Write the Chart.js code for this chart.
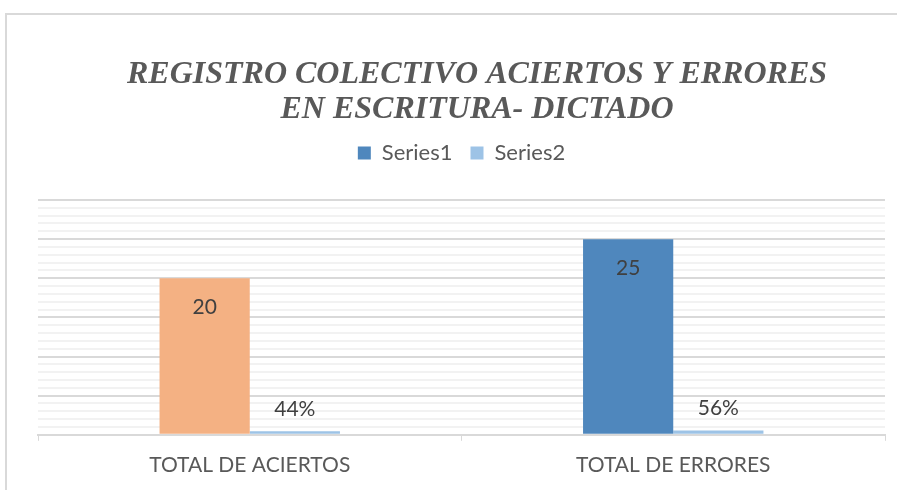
<!DOCTYPE html>
<html>
<head>
<meta charset="utf-8">
<script src="https://cdn.jsdelivr.net/npm/chart.js@4"></script>
<style>
  html, body { margin: 0; padding: 0; background: #fff; overflow: hidden; }
  #box {
    position: absolute; left: 5px; top: 13px;
    width: 918px; height: 477px;
    border-top: 2px solid #d9d9d9; border-left: 2px solid #d9d9d9;
  }
  canvas { position: absolute; left: -2px; top: -2px; }
</style>
</head>
<body>
<div id="box"><canvas id="myChart" width="918" height="477"></canvas></div>
<script>
// data
const categories = ['TOTAL DE ACIERTOS', 'TOTAL DE ERRORES'];
const series1 = [20, 25];
const series2 = [0.44, 0.56];
const seriesNames = ['Series1', 'Series2'];
const titleLines = ['REGISTRO COLECTIVO ACIERTOS Y ERRORES', 'EN ESCRITURA- DICTADO'];

const ORANGE = '#F4B183';
const BLUE = '#4F87BD';
const LIGHT = '#9DC3E6';
const legendColors = [BLUE, LIGHT];

const labelFont = '21px Lato';

// title drawn by hand so it can sit a bit right of centre like the original
const titlePlugin = {
  id: 'titleDraw',
  afterDraw(chart) {
    const ctx = chart.ctx;
    ctx.save();
    ctx.font = 'italic bold 32px "Liberation Serif"';
    ctx.fillStyle = '#595959';
    ctx.textAlign = 'center';
    ctx.textBaseline = 'middle';
    ctx.fillText(titleLines[0], 472, 62);
    ctx.fillText(titleLines[1], 472, 97);
    ctx.restore();
  }
};

// value labels, excel style
const labelPlugin = {
  id: 'valueLabels',
  afterDatasetsDraw(chart) {
    const ctx = chart.ctx;
    ctx.save();
    ctx.font = labelFont;
    ctx.fillStyle = '#404040';
    ctx.textAlign = 'center';
    ctx.textBaseline = 'middle';
    chart.getDatasetMeta(0).data.forEach((bar, i) => {
      ctx.fillText(String(series1[i]), bar.x, bar.y + 29);
    });
    chart.getDatasetMeta(1).data.forEach((bar, i) => {
      ctx.fillText(Math.round(series2[i] * 100) + '%', bar.x, bar.y - 22);
    });
    ctx.restore();
  }
};

// extra room under the legend
const legendGap = {
  id: 'legendGap',
  beforeInit(chart) {
    const fit = chart.legend.fit;
    chart.legend.fit = function () {
      fit.bind(chart.legend)();
      this.height += 26;
    };
  }
};

const ctx = document.getElementById('myChart').getContext('2d');
new Chart(ctx, {
  type: 'bar',
  data: {
    labels: categories,
    datasets: [{
      label: seriesNames[0],
      data: series1,
      backgroundColor: [ORANGE, BLUE],
      categoryPercentage: 0.426,
      barPercentage: 1
    }, {
      label: seriesNames[1],
      data: series2,
      backgroundColor: LIGHT,
      categoryPercentage: 0.426,
      barPercentage: 1
    }]
  },
  options: {
    responsive: false,
    animation: false,
    layout: { padding: { top: 111, left: 33, right: 38, bottom: 0 } },
    plugins: {
      title: { display: false },
      tooltip: { enabled: false },
      legend: {
        position: 'top',
        labels: {
          font: { family: 'Lato', size: 22 },
          color: '#595959',
          boxWidth: 13,
          boxHeight: 13,
          padding: 18,
          generateLabels(chart) {
            return chart.data.datasets.map((ds, i) => ({
              text: ds.label,
              fillStyle: legendColors[i],
              strokeStyle: legendColors[i],
              lineWidth: 0,
              hidden: false,
              datasetIndex: i,
              fontColor: '#595959'
            }));
          }
        }
      }
    },
    scales: {
      x: {
        grid: {
          drawOnChartArea: false,
          drawTicks: true,
          tickLength: 6,
          color: '#d9d9d9'
        },
        border: { display: true, color: '#d9d9d9', width: 2 },
        ticks: {
          font: { family: 'Lato', size: 21 },
          color: '#595959',
          padding: 12
        }
      },
      y: {
        min: 0,
        max: 30,
        ticks: { display: false, stepSize: 1 },
        border: { display: false },
        grid: {
          drawTicks: false,
          lineWidth: 2,
          color: (c) => (c.tick && c.tick.value % 5 === 0) ? '#d9d9d9' : '#f2f2f2'
        }
      }
    }
  },
  plugins: [titlePlugin, labelPlugin, legendGap]
});
</script>
</body>
</html>
